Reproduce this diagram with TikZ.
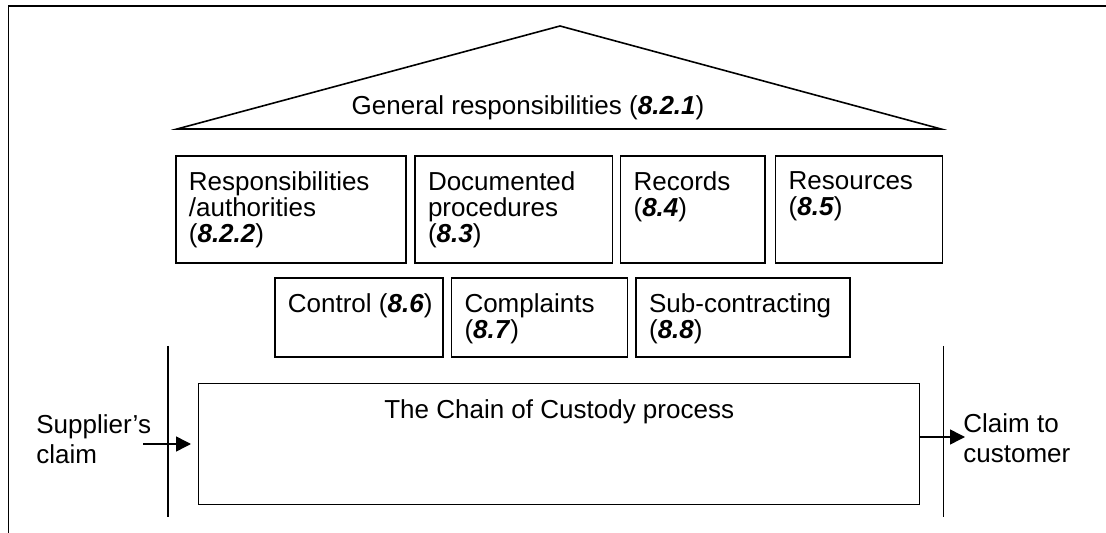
\documentclass[tikz,border=0pt]{standalone}
\usepackage{fontspec}
\setmainfont{Liberation Sans}
\usepackage{tikz}
\usetikzlibrary{arrows.meta, positioning}

\begin{document}
\begin{tikzpicture}[x=0.5pt, y=-0.5pt,
    box/.style={rectangle, draw=black, line width=0.8pt, fill=white, inner sep=0pt},
    txt/.style={text=black, align=left, inner xsep=6.75pt, inner ysep=8pt, anchor=north west, font=\fontsize{13}{13}\selectfont},
    side/.style={text=black, align=left, inner sep=0pt, anchor=north west, font=\fontsize{13}{15}\selectfont},
    arr/.style={-{Triangle[length=7.5pt, width=7.5pt]}, line width=0.75pt}]
    \useasboundingbox (0,0) rectangle (1106,533);
    \draw[line width=0.9pt] (8.5,533) -- (8.5,6) -- (1106,6);%outer frame
    \coordinate (roofL) at (177,129);
    \coordinate (roofT) at (560,26);
    \coordinate (roofR) at (941,129);
    \draw[line width=0.8pt] (roofL) -- (roofT) -- (roofR) -- cycle;%draws the roof
    \node (gen) [text=black, anchor=base, font=\fontsize{13}{13}\selectfont] at (528,115) {General responsibilities (\textbf{\textit{8.2.1}})};%roof text
    \node (resp) [box, minimum width=115pt, minimum height=53.5pt, anchor=north west] at (175,155) {};%first row of boxes
    \node (docs) [box, minimum width=98.75pt, minimum height=53.5pt, right=3.75pt of resp] {};
    \node (recs) [box, minimum width=72.25pt, minimum height=53.5pt, right=3.25pt of docs] {};
    \node (ress) [box, minimum width=83.5pt, minimum height=53.5pt, right=4.5pt of recs] {};
    \node (respT) [txt] at (resp.north west) {Responsibilities\\/authorities\\(\textbf{\textit{8.2.2}})};
    \node (docsT) [txt] at (docs.north west) {Documented\\procedures\\(\textbf{\textit{8.3}})};
    \node (recsT) [txt] at (recs.north west) {Records\\(\textbf{\textit{8.4}})};
    \node (ressT) [txt] at (ress.north west) {Resources\\(\textbf{\textit{8.5}})};
    \node (ctrl) [box, minimum width=84pt, minimum height=39.5pt, anchor=north west] at (274,277) {};%second row of boxes
    \node (compl) [box, minimum width=88pt, minimum height=39.5pt, right=3.5pt of ctrl] {};
    \node (subc) [box, minimum width=107pt, minimum height=39.5pt, right=3.5pt of compl] {};
    \node (ctrlT) [txt] at (ctrl.north west) {Control (\textbf{\textit{8.6}})};
    \node (complT) [txt] at (compl.north west) {Complaints\\(\textbf{\textit{8.7}})};
    \node (subcT) [txt] at (subc.north west) {Sub-contracting\\(\textbf{\textit{8.8}})};
    \node (chain) [box, line width=0.7pt, minimum width=360.5pt, minimum height=60.5pt, anchor=north west] at (198,383) {};%the process box
    \node (chainT) [txt, anchor=north] at (chain.north) {The Chain of Custody process};
    \coordinate (wallLt) at (168,346);
    \coordinate (wallLb) at (168,517);
    \coordinate (wallRt) at (943.5,346);
    \coordinate (wallRb) at (943.5,517);
    \draw[line width=0.75pt] (wallLt) -- (wallLb);%left wall
    \draw[line width=0.75pt] (wallRt) -- (wallRb);%right wall
    \node (sup) [side] at (36,414) {Supplier’s\\claim};
    \node (cust) [side] at (963,413) {Claim to\\customer};
    \coordinate (supIn) at (143,444);
    \coordinate (custOut) at (965,437);
    \draw[arr, shorten >=3.5pt] (supIn) -- (supIn -| chain.west);%claim in
    \draw[arr] (chain.east |- custOut) -- (custOut);%claim out
\end{tikzpicture}
\end{document}
